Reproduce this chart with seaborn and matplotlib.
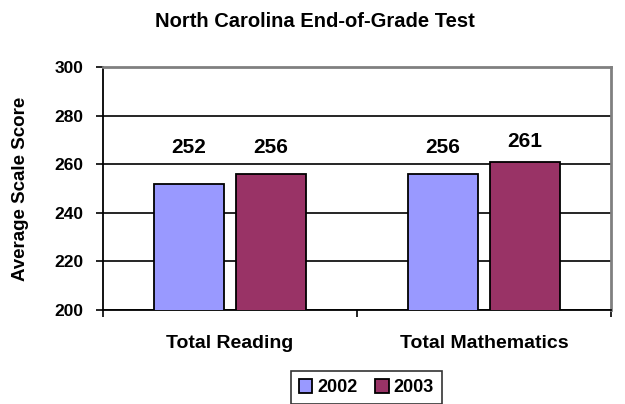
import pandas as pd
import matplotlib
matplotlib.use("Agg")
import matplotlib.pyplot as plt
import seaborn as sns

# data
subjects = ["Total Reading", "Total Mathematics"]
years = ["2002", "2003"]
scores_2002 = [252, 256]
scores_2003 = [256, 261]
bar_colors = ["#9999FF", "#993366"]

df = pd.DataFrame({
        "subject": subjects * 2,
        "year": [years[0]] * 2 + [years[1]] * 2,
        "score": scores_2002 + scores_2003,
})

sns.set_theme(style="white")
plt.rcParams["font.family"] = ["Liberation Sans", "DejaVu Sans"]
plt.rcParams["font.weight"] = "bold"
plt.rcParams["text.color"] = "black"
plt.rcParams["xtick.color"] = "black"
plt.rcParams["ytick.color"] = "black"
plt.rcParams["axes.labelcolor"] = "black"

fig = plt.figure(figsize=(6.25, 4.04), dpi=100)
ax = fig.add_axes([0.1648, 0.2327, 0.8128, 0.6013])

sns.barplot(data=df, x="subject", y="score", hue="year", palette=bar_colors,
            saturation=1, width=0.646, gap=0.158, edgecolor="black", linewidth=1.3,
            ax=ax, zorder=3)

ax.set_ylim(200, 300)
ax.set_xlim(-0.5, 1.5)
ax.set_yticks(range(200, 301, 20))
ax.yaxis.grid(True, color="black", linewidth=1.2, zorder=0)
ax.set_axisbelow(True)

# value labels above bars
for cont in ax.containers:
        for bar in cont:
                v = bar.get_height()
                ax.text(bar.get_x() + bar.get_width() / 2, max(v + 8.5, 267), str(int(v)),
                        ha="center", va="center", fontsize=15, fontweight="bold", zorder=4)

ax.set_xlabel("")
ax.set_ylabel("Average Scale Score", fontsize=13.5, fontweight="bold", labelpad=18)
ax.set_title("North Carolina End-of-Grade Test", fontsize=14.5, fontweight="bold", pad=29, x=0.417)

ax.tick_params(axis="x", which="major", length=0, pad=18, labelsize=14)
ax.set_xticks([-0.5, 0.5, 1.5], minor=True)
ax.tick_params(axis="x", which="minor", length=5, width=1.2, color="black", direction="out", bottom=True)
ax.tick_params(axis="y", length=5, width=1.2, color="black", direction="out", left=True, labelsize=12.5, pad=9)
for lab in ax.get_xticklabels() + ax.get_yticklabels():
        lab.set_fontweight("bold")

for s in ["left", "bottom"]:
        ax.spines[s].set_color("black")
        ax.spines[s].set_linewidth(1.3)
for s in ["top", "right"]:
        ax.spines[s].set_visible(True)
        ax.spines[s].set_color("#808080")
        ax.spines[s].set_linewidth(2)

handles, labels = ax.get_legend_handles_labels()
ax.legend_.remove()
leg = fig.legend(handles, labels, loc="center", bbox_to_anchor=(0.586, 0.04), ncol=2,
                 frameon=True, fancybox=False, edgecolor="black",
                 handlelength=0.75, handleheight=0.75, handletextpad=0.25, columnspacing=1.0,
                 borderpad=0.45, prop={"weight": "bold", "size": 13})
leg.get_frame().set_linewidth(1.2)

fig.savefig("out.png", dpi=100)
